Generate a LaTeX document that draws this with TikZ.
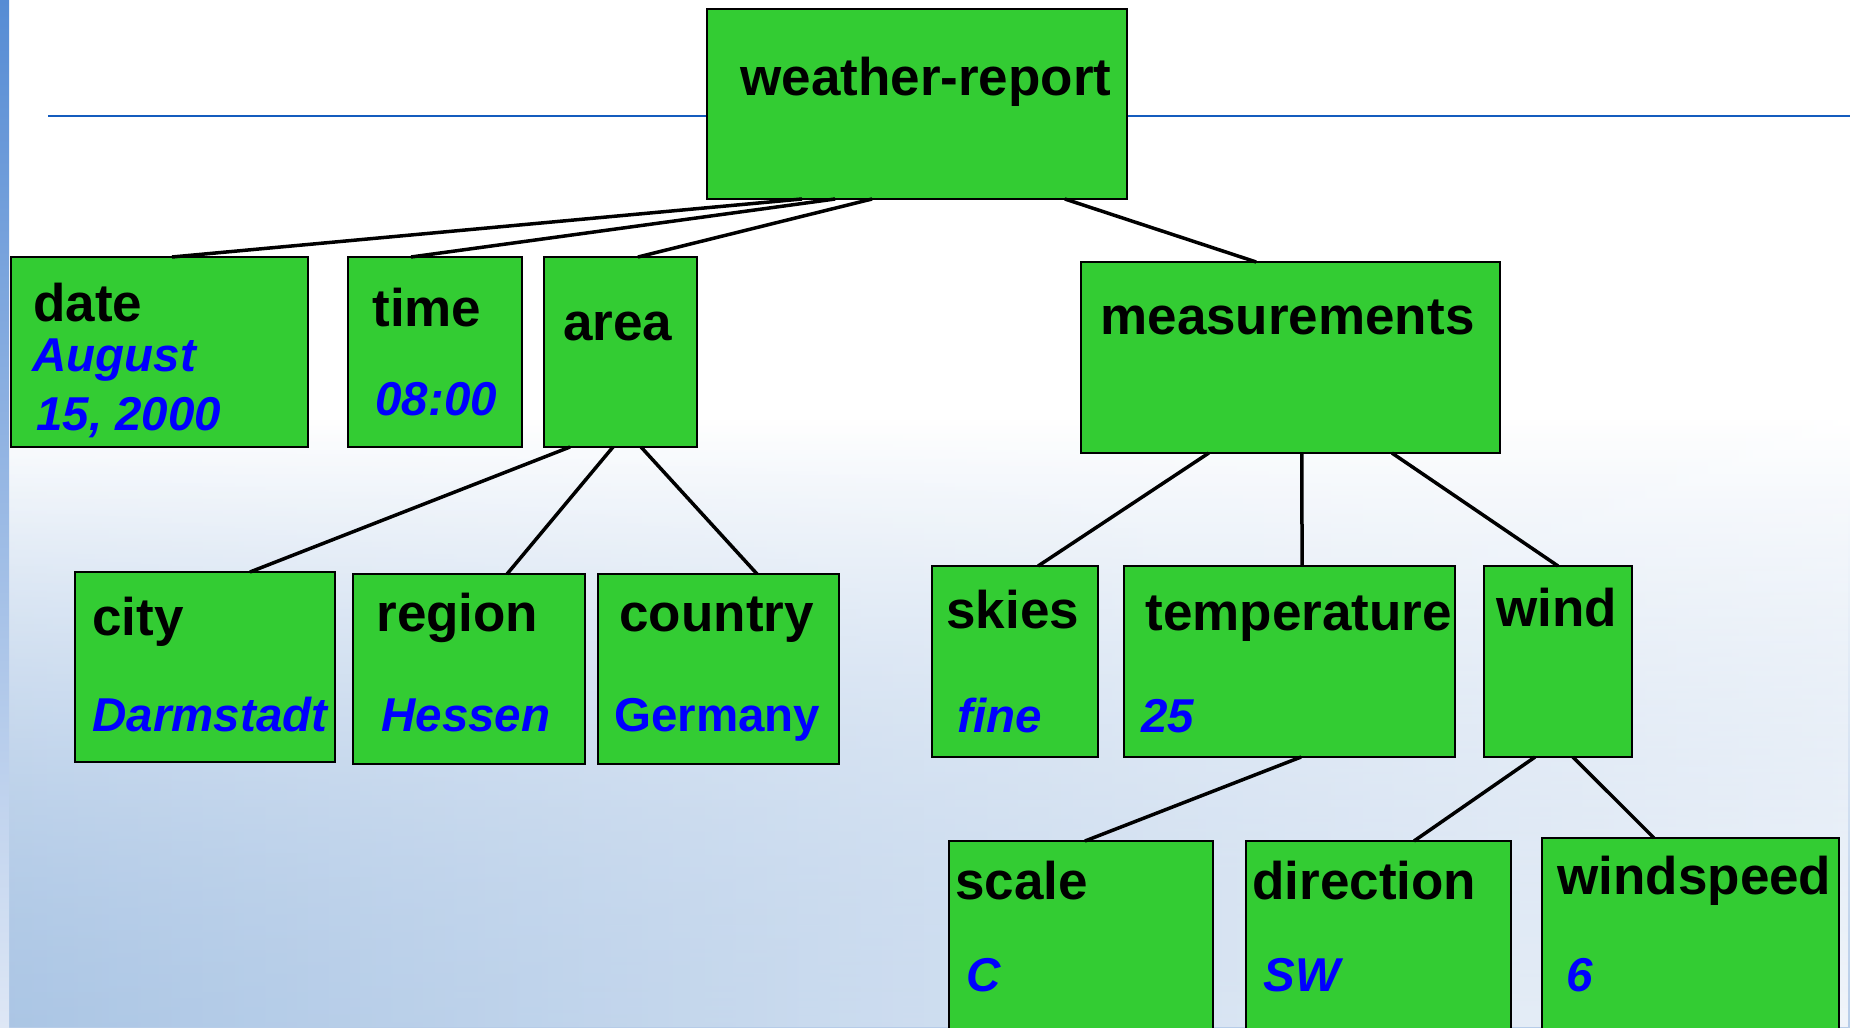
\documentclass[tikz,border=0pt]{standalone}
\usepackage{fontspec}
\setmainfont{Liberation Sans}
\usetikzlibrary{calc,fit,fadings}

\definecolor{boxgreen}{RGB}{51,204,51}
\definecolor{rulecol}{RGB}{20,92,190}
\definecolor{skyblue}{RGB}{182,204,232}
\definecolor{skydeep}{RGB}{168,196,228}
\definecolor{bartop}{RGB}{86,140,212}
\definecolor{barbot}{RGB}{222,231,245}
\definecolor{valblue}{RGB}{0,0,255}

\tikzset{
  box/.style={draw=black, fill=boxgreen, line width=1pt, inner sep=0pt, outer sep=0pt},
  key/.style={anchor=base west, inner sep=0pt, font=\fontsize{26.5}{30}\selectfont\bfseries},
  val/.style={anchor=base west, inner sep=0pt, text=valblue, font=\fontsize{23.75}{28}\selectfont\bfseries\itshape},
  valup/.style={val, font=\fontsize{23.75}{28}\selectfont\bfseries},
  link/.style={draw=black, line width=1.75pt},
}

\begin{document}
\begin{tikzpicture}[x=0.5pt, y=-0.5pt]
\useasboundingbox (0,0) rectangle (1850,1027);
\clip (0,0) rectangle (1850,1027);

% background: white top fading into light blue, a little deeper on the left
\fill[white] (0,0) rectangle (1850,1027);
\shade[top color=white, bottom color=skyblue] (0,420) rectangle (1850,1027);
\shade[left color=skydeep, right color=white, path fading=north, opacity=0.8]
  (0,420) rectangle (1850,1027);
\shade[top color=bartop, bottom color=barbot] (0,0) rectangle (9,1027);

% title rule
\draw[rulecol, line width=1.2pt] (48,116) -- (1850,116);

% boxes
\node[box, fit={(707,9) (1127,199)}] (root) {};
\node[box, fit={(11,257) (308,447)}] (date) {};
\node[box, fit={(348,257) (522,447)}] (time) {};
\node[box, fit={(544,257) (697,447)}] (area) {};
\node[box, fit={(1081,262) (1500,453)}] (meas) {};
\node[box, fit={(75,572) (335,762)}] (city) {};
\node[box, fit={(353,574) (585,764)}] (region) {};
\node[box, fit={(598,574) (839,764)}] (country) {};
\node[box, fit={(932,566) (1098,757)}] (skies) {};
\node[box, fit={(1124,566) (1455,757)}] (temp) {};
\node[box, fit={(1484,566) (1632,757)}] (wind) {};
\node[box, fit={(949,841) (1213,1060)}] (scale) {};
\node[box, fit={(1246,841) (1511,1060)}] (dir) {};
\node[box, fit={(1542,838) (1839,1060)}] (speed) {};

% tree edges: from a point on the parent's lower edge to a point on the child's upper edge
\draw[link] ($(root.south west)!0.226!(root.south east)$) -- ($(date.north west)!0.542!(date.north east)$);
\draw[link] ($(root.south west)!0.305!(root.south east)$) -- ($(time.north west)!0.362!(time.north east)$);
\draw[link] ($(root.south west)!0.393!(root.south east)$) -- ($(area.north west)!0.614!(area.north east)$);
\draw[link] ($(root.south west)!0.852!(root.south east)$) -- ($(meas.north west)!0.418!(meas.north east)$);
\draw[link] ($(area.south west)!0.170!(area.south east)$) -- ($(city.north west)!0.673!(city.north east)$);
\draw[link] ($(area.south west)!0.451!(area.south east)$) -- ($(region.north west)!0.664!(region.north east)$);
\draw[link] ($(area.south west)!0.634!(area.south east)$) -- ($(country.north west)!0.660!(country.north east)$);
\draw[link] ($(meas.south west)!0.305!(meas.south east)$) -- ($(skies.north west)!0.639!(skies.north east)$);
\draw[link] ($(meas.south west)!0.527!(meas.south east)$) -- ($(temp.north west)!0.538!(temp.north east)$);
\draw[link] ($(meas.south west)!0.742!(meas.south east)$) -- ($(wind.north west)!0.500!(wind.north east)$);
\draw[link] ($(temp.south west)!0.535!(temp.south east)$) -- ($(scale.north west)!0.515!(scale.north east)$);
\draw[link] ($(wind.south west)!0.345!(wind.south east)$) -- ($(dir.north west)!0.634!(dir.north east)$);
\draw[link] ($(wind.south west)!0.601!(wind.south east)$) -- ($(speed.north west)!0.377!(speed.north east)$);

% element names
\node[key] (rootk) at (740,96) {weather-report};
\node[key] (datek) at (33,321) {date};
\node[key] (timek) at (372,326) {time};
\node[key] (areak) at (563,340) {area};
\node[key] (meask) at (1100,334) {measurements};
\node[key] (cityk) at (92,635) {city};
\node[key] (regionk) at (376,631) {region};
\node[key] (countryk) at (619,631) {country};
\node[key] (skiesk) at (946,628) {skies};
\node[key] (tempk) at (1145,630) {temperature};
\node[key] (windk) at (1496,626) {wind};
\node[key] (scalek) at (955,899) {scale};
\node[key] (dirk) at (1252,899) {direction};
\node[key] (speedk) at (1557,894) {windspeed};

% element values
\node[val] (datev1) at (32,371) {August};
\node[val] (datev2) at (36,430) {15, 2000};
\node[val] (timev) at (375,415) {08:00};
\node[val] (cityv) at (92,731) {Darmstadt};
\node[val] (regionv) at (381,731) {Hessen};
\node[valup] (countryv) at (614,731) {Germany};
\node[val] (skiesv) at (957,732) {fine};
\node[val] (tempv) at (1141,732) {25};
\node[val] (scalev) at (966,991) {C};
\node[val] (dirv) at (1263,991) {SW};
\node[val] (speedv) at (1566,991) {6};
\end{tikzpicture}
\end{document}
